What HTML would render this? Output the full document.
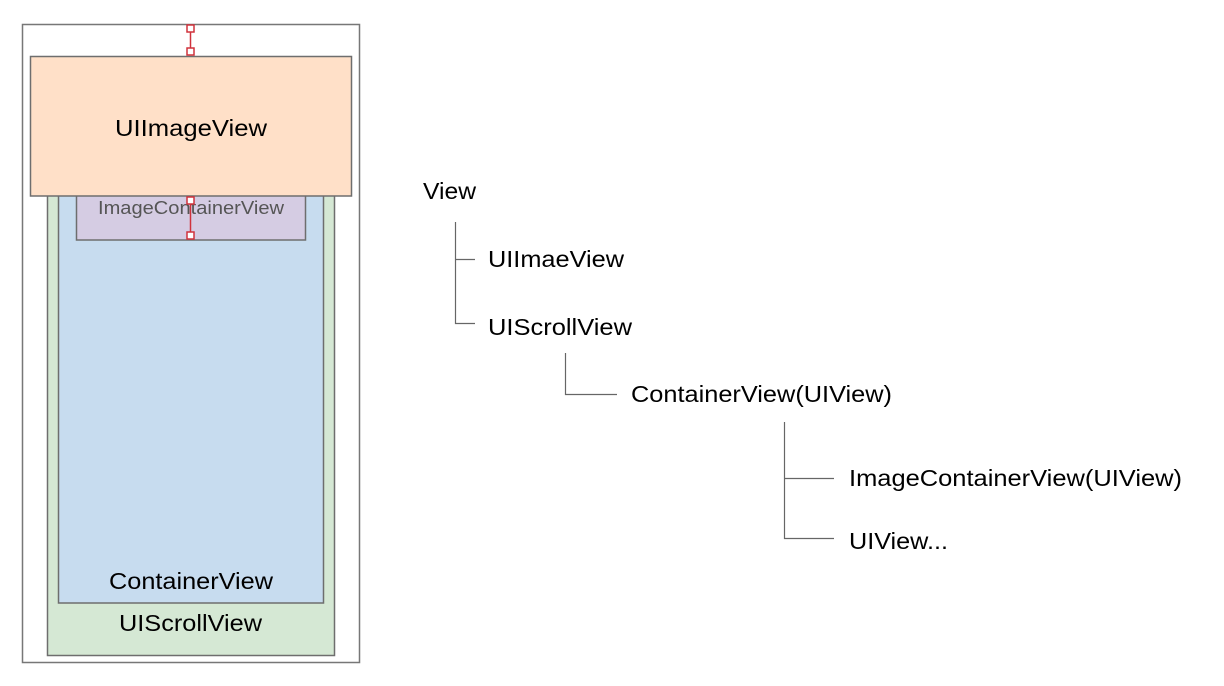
<!DOCTYPE html>
<html><head><meta charset="utf-8"><style>
html,body{margin:0;padding:0;background:#fff;}
svg{display:block;}
text{font-family:"Liberation Sans",Arial,sans-serif;}
</style></head><body>
<svg width="1224" height="686" viewBox="0 0 1224 686" xmlns="http://www.w3.org/2000/svg">
<rect x="0" y="0" width="1224" height="686" fill="#fff"/>
<rect x="22.5" y="24.5" width="337" height="638" fill="#fff" stroke="#777" stroke-width="1.5"/>
<rect x="47.5" y="190" width="287" height="465.5" fill="#d5e8d4" stroke="#6e6e6e" stroke-width="1.5"/>
<rect x="58.5" y="190" width="265" height="413" fill="#c7dcef" stroke="#6e6e6e" stroke-width="1.5"/>
<rect x="76.5" y="190" width="229" height="50" fill="#d5cce3" stroke="#6e6e6e" stroke-width="1.5"/>
<text x="98" y="214" font-size="18" fill="#555" textLength="186" lengthAdjust="spacingAndGlyphs">ImageContainerView</text>
<rect x="30.5" y="56.5" width="321" height="139.5" fill="#ffe0c8" stroke="#6e6e6e" stroke-width="1.5"/>
<text x="115" y="136" font-size="23" fill="#000" textLength="152" lengthAdjust="spacingAndGlyphs">UIImageView</text>
<text x="109" y="589" font-size="23" fill="#000" textLength="164" lengthAdjust="spacingAndGlyphs">ContainerView</text>
<text x="119" y="631" font-size="23" fill="#000" textLength="143" lengthAdjust="spacingAndGlyphs">UIScrollView</text>
<g stroke="#d0323c" stroke-width="1.5" fill="#fff">
<line x1="190.5" y1="31" x2="190.5" y2="49"/>
<rect x="187" y="25" width="7" height="7"/>
<rect x="187" y="48" width="7" height="7"/>
<line x1="190.5" y1="202" x2="190.5" y2="233"/>
<rect x="187" y="197" width="7" height="7"/>
<rect x="187" y="232" width="7" height="7"/>
</g>
<g stroke="#666" stroke-width="1.2" fill="none">
<polyline points="455.5,222 455.5,323.5 475,323.5"/>
<line x1="455.5" y1="259.5" x2="475" y2="259.5"/>
<polyline points="565.5,353 565.5,394.5 617,394.5"/>
<polyline points="784.5,422 784.5,538.5 834,538.5"/>
<line x1="784.5" y1="478.5" x2="834" y2="478.5"/>
</g>
<g font-size="23" fill="#000">
<text x="423" y="199" textLength="53" lengthAdjust="spacingAndGlyphs">View</text>
<text x="488" y="267" textLength="136" lengthAdjust="spacingAndGlyphs">UIImaeView</text>
<text x="488" y="335" textLength="144" lengthAdjust="spacingAndGlyphs">UIScrollView</text>
<text x="631" y="402" textLength="261" lengthAdjust="spacingAndGlyphs">ContainerView(UIView)</text>
<text x="849" y="486" textLength="333" lengthAdjust="spacingAndGlyphs">ImageContainerView(UIView)</text>
<text x="849" y="549" textLength="99" lengthAdjust="spacingAndGlyphs">UIView...</text>
</g>
</svg>
</body></html>
